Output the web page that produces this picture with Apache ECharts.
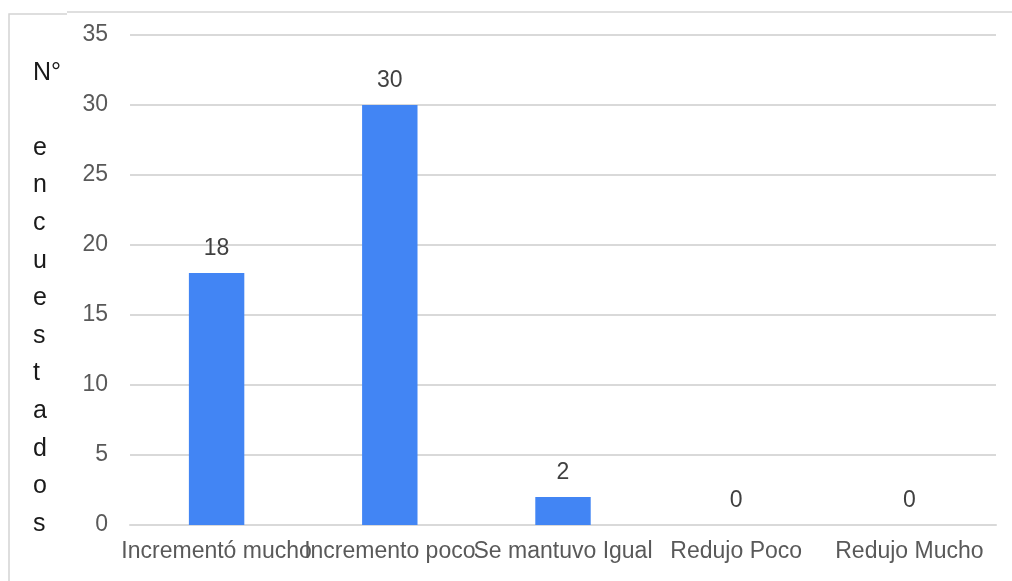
<!DOCTYPE html>
<html>
<head>
<meta charset="utf-8">
<script src="https://cdn.jsdelivr.net/npm/echarts@6/dist/echarts.min.js"></script>
<style>
  html, body { margin: 0; padding: 0; background: #ffffff; }
  #chart { width: 1012px; height: 581px; }
</style>
</head>
<body>
<div id="chart"></div>
<script>
// Survey answers and number of respondents per answer
const categories = ['Incrementó mucho', 'Incremento poco', 'Se mantuvo Igual', 'Redujo Poco', 'Redujo Mucho'];
const respondents = [18, 30, 2, 0, 0];
const yTicks = { min: 0, max: 35, interval: 5 };
const yTitle = 'N°\n\ne\nn\nc\nu\ne\ns\nt\na\nd\no\ns';

const FONT = '"Liberation Sans", Arial, sans-serif';
const chart = echarts.init(document.getElementById('chart'), null, { renderer: 'canvas' });

chart.setOption({
  animation: false,
  backgroundColor: '#ffffff',
  grid: { left: 130, right: 16, top: 35, bottom: 56, containLabel: false, outerBoundsMode: 'none' },
  graphic: [
    // frame around the chart area
    { type: 'polyline', silent: true, shape: { points: [[9, 581], [9, 14], [67, 14]] },
      style: { stroke: '#d4d4d4', lineWidth: 1.5, fill: null } },
    { type: 'line', silent: true, shape: { x1: 67, y1: 12, x2: 1012, y2: 12 },
      style: { stroke: '#d4d4d4', lineWidth: 1.5 } },
    // vertical axis title, one letter per line
    { type: 'text', silent: true, x: 33, y: 54,
      style: { text: yTitle, fontFamily: FONT, fontSize: 25, lineHeight: 37.6,
               fill: '#1a1a1a', align: 'left', verticalAlign: 'top' } }
  ],
  xAxis: {
    type: 'category',
    data: categories,
    axisLine: { show: true, lineStyle: { color: '#d9d9d9', width: 2 } },
    axisTick: { show: false },
    axisLabel: { interval: 0, hideOverlap: false, margin: 15, color: '#595959', fontSize: 23, fontFamily: FONT }
  },
  yAxis: {
    type: 'value',
    min: yTicks.min,
    max: yTicks.max,
    interval: yTicks.interval,
    axisLine: { show: false },
    axisTick: { show: false },
    axisLabel: { margin: 22, color: '#595959', fontSize: 23, fontFamily: FONT },
    splitLine: { lineStyle: { color: '#d9d9d9', width: 2 } }
  },
  series: [{
    type: 'bar',
    data: respondents,
    barWidth: '32%',
    itemStyle: { color: '#4285f4' },
    label: { show: true, position: 'top', distance: 13, color: '#404040', fontSize: 23, fontFamily: FONT }
  }]
});
</script>
</body>
</html>
